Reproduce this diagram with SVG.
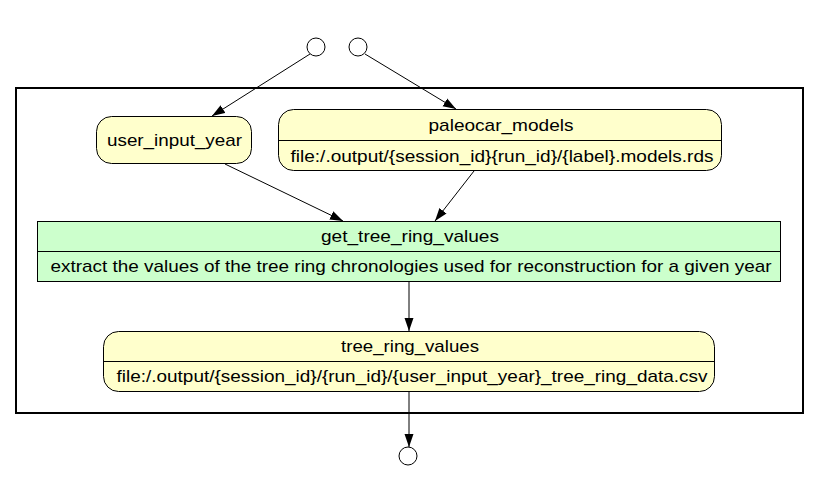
<svg xmlns="http://www.w3.org/2000/svg" width="819" height="503" viewBox="0 0 819 503">
<style>
text{font-family:"Liberation Sans",Arial,sans-serif;font-size:17px;fill:#000;text-anchor:middle}
.data{fill:#ffffcc;stroke:#000;stroke-width:1}
.proc{fill:#ccffcc;stroke:#000;stroke-width:1}
.term{fill:#fff;stroke:#000;stroke-width:1}
.edge{fill:none;stroke:#000;stroke-width:1}
.div{stroke:#000;stroke-width:1}
</style>
<defs>
<marker id="arr" viewBox="0 0 13 10" refX="13" refY="5" markerWidth="13" markerHeight="10" markerUnits="userSpaceOnUse" orient="auto">
<path d="M0,0.5 L13,5 L0,9.5 Z" fill="#000"/>
</marker>
</defs>
<rect x="0" y="0" width="819" height="503" fill="#fff"/>
<rect id="cluster" x="16" y="88" width="787" height="325" fill="none" stroke="#000" stroke-width="2"/>
<g id="in1"><ellipse class="term" cx="316" cy="47" rx="9" ry="9"/></g>
<g id="in2"><ellipse class="term" cx="358" cy="47" rx="9" ry="9"/></g>
<g id="out1"><ellipse class="term" cx="408" cy="456" rx="9" ry="9"/></g>
<g id="user_input_year">
<rect class="data" x="96.5" y="116.5" width="155" height="47" rx="15" ry="15"/>
<text x="174.5" y="146" textLength="135" lengthAdjust="spacingAndGlyphs">user_input_year</text>
</g>
<g id="paleocar_models">
<rect class="data" x="278.5" y="109.5" width="443" height="61" rx="15" ry="15"/>
<line class="div" x1="278.5" y1="140.5" x2="721.5" y2="140.5"/>
<text x="501" y="131" textLength="145" lengthAdjust="spacingAndGlyphs">paleocar_models</text>
<text x="502" y="162" textLength="423" lengthAdjust="spacingAndGlyphs">file:/.output/{session_id}{run_id}/{label}.models.rds</text>
</g>
<g id="get_tree_ring_values">
<rect class="proc" x="37.5" y="221.5" width="743" height="60"/>
<line class="div" x1="37.5" y1="251.5" x2="780.5" y2="251.5"/>
<text x="410" y="242" textLength="178" lengthAdjust="spacingAndGlyphs">get_tree_ring_values</text>
<text x="411" y="272" textLength="721" lengthAdjust="spacingAndGlyphs">extract the values of the tree ring chronologies used for reconstruction for a given year</text>
</g>
<g id="tree_ring_values">
<rect class="data" x="103.5" y="331.5" width="611" height="60" rx="15" ry="15"/>
<line class="div" x1="103.5" y1="361.5" x2="714.5" y2="361.5"/>
<text x="410" y="352" textLength="138" lengthAdjust="spacingAndGlyphs">tree_ring_values</text>
<text x="412" y="382" textLength="591" lengthAdjust="spacingAndGlyphs">file:/.output/{session_id}/{run_id}/{user_input_year}_tree_ring_data.csv</text>
</g>
<g id="connectors">
<path class="edge" d="M310,54 L212,116" marker-end="url(#arr)"/>
<path class="edge" d="M365,54 L456,109" marker-end="url(#arr)"/>
<path class="edge" d="M225,164 L343,221" marker-end="url(#arr)"/>
<path class="edge" d="M474,171 L435,221" marker-end="url(#arr)"/>
<path class="edge" d="M409,282 L409,331" marker-end="url(#arr)"/>
<path class="edge" d="M409,392 L409,447" marker-end="url(#arr)"/>
</g>
</svg>
